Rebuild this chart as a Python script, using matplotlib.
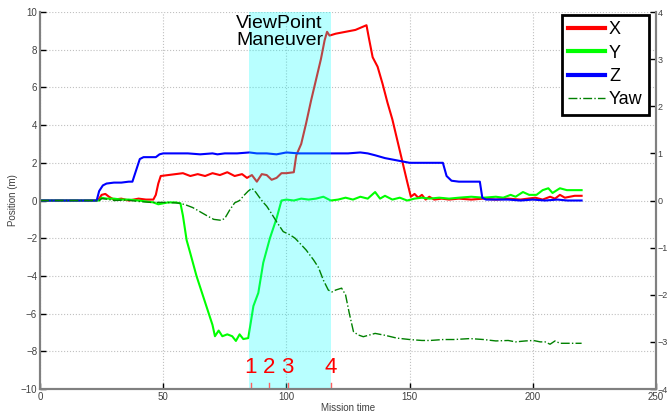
import matplotlib
matplotlib.use('Agg')
import matplotlib.pyplot as plt

plt.rcParams['font.family'] = ['Liberation Sans', 'DejaVu Sans']

#####################################################################
# Data
t_x = [0, 23, 24, 25, 26.5, 28, 30, 33, 36, 40, 43, 46, 47, 48, 49, 52, 55, 58, 61, 64,
       67, 70, 73, 76, 79, 82, 84, 86, 88, 90, 92, 94, 96, 98, 100, 103, 104, 106, 108, 110,
       112, 114, 115.5, 116.5, 117.5, 120, 124, 128, 132.5, 133.5, 135, 137, 139, 141, 143, 145,
       147, 149, 150.5, 152, 153.5, 155, 156.5, 158, 160, 163, 166, 170, 175, 180, 185, 190,
       195, 198, 201, 204, 207, 209, 211, 213, 215, 217, 219.8]
pos_x = [0, 0, 0.1, 0.3, 0.35, 0.2, 0.05, 0.1, 0.0, 0.1, 0.05, 0.05, 0.3, 0.9, 1.3, 1.35, 1.4, 1.45, 1.3, 1.4,
         1.3, 1.45, 1.35, 1.5, 1.3, 1.4, 1.2, 1.35, 1.0, 1.4, 1.35, 1.1, 1.2, 1.45, 1.45, 1.5, 2.4, 3.0, 4.1, 5.3,
         6.4, 7.5, 8.5, 8.95, 8.75, 8.85, 8.95, 9.05, 9.3, 8.6, 7.6, 7.1, 6.2, 5.2, 4.3, 3.2,
         2.1, 1.0, 0.2, 0.35, 0.15, 0.3, 0.05, 0.2, 0.05, 0.1, 0.05, 0.1, 0.05, 0.1, 0.05, 0.1,
         0.05, 0.1, 0.15, 0.05, 0.2, 0.1, 0.3, 0.15, 0.2, 0.25, 0.25]

t_y = [0, 24, 25, 27, 30, 33, 36, 40, 43, 46, 48, 50, 52, 55, 57, 58, 59.5, 61, 63.5, 66,
       68, 70, 71, 72.5, 74, 76, 78, 79.5, 81, 82.5, 84.5, 85.5, 86.6, 88.6, 90.6, 93.3, 96, 98, 100, 103,
       106, 109, 112, 115, 118, 121, 124, 127, 130, 133, 136, 138, 140, 143, 146, 149, 152, 155, 158, 162,
       166, 170, 175, 180, 185, 188, 191, 193, 196, 198.5, 201.5, 204, 206.3, 208, 211, 213.8, 219.8]
pos_y = [0, 0, 0.15, 0.1, 0.1, 0.05, 0.05, 0.0, -0.05, -0.1, -0.2, -0.15, -0.1, -0.1, -0.15, -0.8, -2.1, -2.8, -4.0, -5.0,
         -5.8, -6.6, -7.2, -6.9, -7.2, -7.1, -7.2, -7.45, -7.1, -7.35, -7.3, -6.5, -5.6, -4.9, -3.3, -2.0, -0.95, 0.0, 0.05, 0.0,
         0.1, 0.05, 0.1, 0.2, 0.0, 0.05, 0.15, 0.05, 0.2, 0.1, 0.45, 0.1, 0.25, 0.05, 0.15, 0.0, 0.1, 0.15, 0.1, 0.15,
         0.1, 0.15, 0.2, 0.15, 0.2, 0.15, 0.3, 0.2, 0.45, 0.3, 0.3, 0.55, 0.65, 0.4, 0.65, 0.55, 0.55]

t_z = [0, 23, 24, 25.5, 27, 30, 33, 36, 37.5, 39, 40.5, 42, 45, 47, 48.5, 50, 55, 60, 65, 70,
       72, 75, 80, 85, 88, 92, 96, 100, 105, 110, 115, 120, 125, 130, 133, 136, 140, 144, 148, 150,
       155, 160, 163.5, 165, 167, 170, 175, 178.5, 179.5, 181, 185, 190, 195, 200, 205, 210, 214, 215, 219.8]
pos_z = [0, 0, 0.5, 0.8, 0.9, 0.95, 0.95, 1.0, 1.0, 1.6, 2.2, 2.3, 2.3, 2.3, 2.45, 2.5, 2.5, 2.5, 2.45, 2.5,
         2.45, 2.5, 2.5, 2.55, 2.5, 2.5, 2.45, 2.55, 2.5, 2.5, 2.5, 2.5, 2.5, 2.55, 2.5, 2.4, 2.25, 2.15, 2.05, 2.0,
         2.0, 2.0, 2.0, 1.3, 1.05, 1.0, 1.0, 1.0, 0.15, 0.05, 0.05, 0.05, 0.0, 0.05, 0.0, 0.05, 0.0, 0.0, 0.0]

t_yaw = [0, 24, 25, 27, 30, 35, 40, 45, 50, 55, 57, 59.5, 62, 65, 68, 70.5, 73.5, 75, 77, 79,
         81, 83, 84.5, 86, 87.5, 89, 90.6, 92, 94, 96, 98.7, 101.5, 103.5, 105.5, 108, 111, 113, 115, 117, 118.5,
         120, 122.4, 124, 125.5, 127.2, 129, 131.2, 134, 136, 140, 144.8, 150, 155, 158.3, 163.7, 168, 174.5, 180, 185, 190,
         193, 197, 200.2, 203, 205, 207, 209, 211, 213, 216, 219.8]
yaw = [0, 0, 0.04, 0.03, 0.0, 0.01, -0.02, -0.04, -0.04, -0.05, -0.06, -0.1, -0.15, -0.24, -0.33, -0.4, -0.42, -0.38, -0.2, -0.05,
       0.0, 0.12, 0.2, 0.26, 0.18, 0.07, -0.04, -0.12, -0.28, -0.45, -0.66, -0.73, -0.8, -0.91, -1.05, -1.26, -1.42, -1.69, -1.9, -1.94,
       -1.9, -1.86, -2.0, -2.39, -2.78, -2.85, -2.89, -2.85, -2.82, -2.86, -2.92, -2.95, -2.97, -2.97, -2.95, -2.95, -2.93, -2.95, -2.98, -2.97,
       -3.0, -2.98, -2.97, -3.0, -3.0, -3.05, -2.98, -3.03, -3.03, -3.03, -3.03]

maneuver_start, maneuver_end = 85, 118
step_times = [85.5, 93, 100.5, 118]
step_labels = ['1', '2', '3', '4']

#####################################################################
fig = plt.figure(figsize=(6.69, 4.13), dpi=100)
ax = fig.add_axes([0.0598, 0.0581, 0.9208, 0.9128])
ax2 = ax.twinx()

lx, = ax.plot(t_x, pos_x, color='#ff0000', lw=1.5, zorder=2)
ly, = ax.plot(t_y, pos_y, color='#00ff00', lw=1.5, zorder=2)
lz, = ax.plot(t_z, pos_z, color='#0000ff', lw=1.5, zorder=2)
lyaw, = ax2.plot(t_yaw, yaw, color='#008000', lw=1, ls='-.')

# maneuver window
ax.axvspan(maneuver_start, maneuver_end, color='#00ffff', alpha=0.28, lw=0, zorder=3)
ax.text(79.5, 9.85, 'ViewPoint\nManeuver', fontsize=14, va='top', ha='left',
        linespacing=1.0, zorder=4)
for t, s in zip(step_times, step_labels):
    ax.text(t, -9.15, s, color='red', fontsize=16, ha='center', va='baseline', zorder=4)
    ax.plot([t, t], [-10, -9.7], color='#ff6060', lw=1, zorder=4)

ax.set_xlim(0, 250)
ax.set_ylim(-10, 10)
ax2.set_ylim(-4, 4)
ax.set_xticks(range(0, 251, 50))
ax.set_yticks(range(-10, 11, 2))
ax2.set_yticks(range(-4, 5))
ax.grid(True, ls=':', color='#c0c0c0', lw=0.8)

for a in (ax, ax2):
    a.tick_params(direction='in', length=4, width=1, labelsize=7, labelcolor='#404040',
                  color='black', pad=2)
    for side in ('left', 'bottom', 'right'):
        a.spines[side].set_color('#808080')
        a.spines[side].set_linewidth(1.5)
    a.spines['top'].set_visible(False)
ax2.tick_params(axis='y', pad=1, labelsize=6.5)

ax.set_xlabel('Mission time', fontsize=7, color='#404040', labelpad=1)
ax.set_ylabel('Position (m)', fontsize=7, color='#404040', labelpad=2)

leg = ax2.legend([lx, ly, lz, lyaw], ['X', 'Y', 'Z', 'Yaw'], loc='upper right',
                 bbox_to_anchor=(0.9886, 0.992), borderaxespad=0, fontsize=13,
                 fancybox=False, framealpha=1, edgecolor='black',
                 handlelength=2.0, handletextpad=0.25, labelspacing=0.35, borderpad=0.35)
leg.get_frame().set_linewidth(2)
for h in leg.legend_handles[:3]:
    h.set_linewidth(3)

fig.savefig('out.png', dpi=100)
